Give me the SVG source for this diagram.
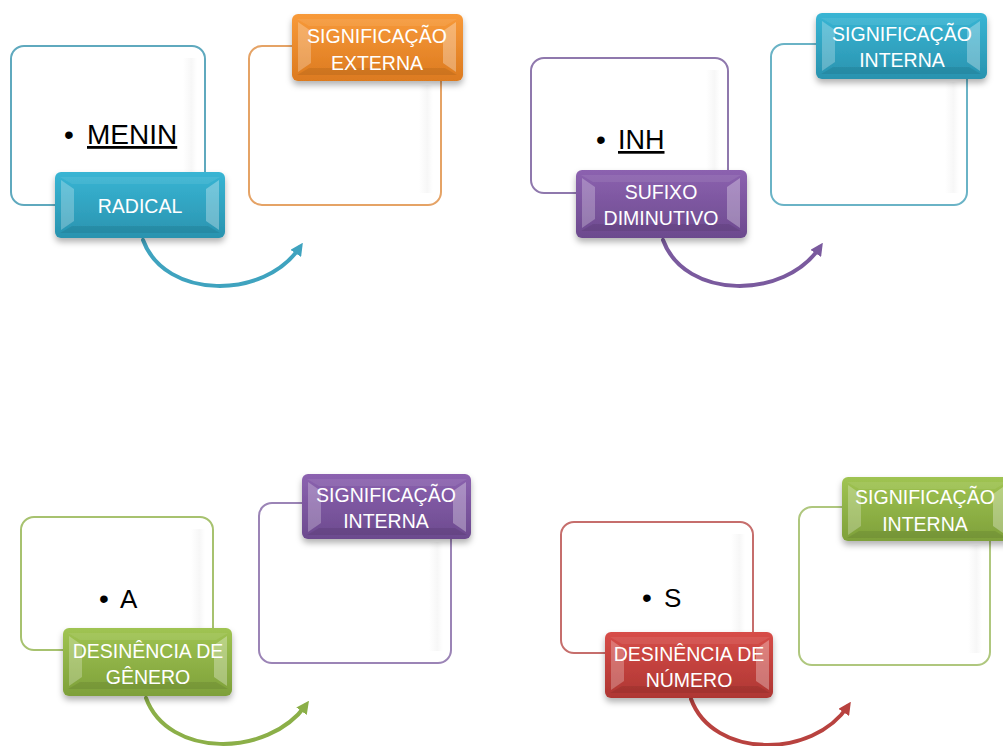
<svg xmlns="http://www.w3.org/2000/svg" xmlns:xlink="http://www.w3.org/1999/xlink" width="1003" height="746" viewBox="0 0 1003 746">
<style>
.box{fill:#ffffff;stroke-width:2}
.tabtxt{font-family:"Liberation Sans",Arial,sans-serif;font-size:19.5px;fill:#ffffff;text-anchor:middle}
.big{font-family:"Liberation Sans",Arial,sans-serif;fill:#000000}
.bul{font-family:"Liberation Sans",Arial,sans-serif;fill:#000000;text-anchor:middle;font-size:28px}
.conn{fill:none;stroke-width:4;stroke-linecap:round}
</style>
<defs>
<linearGradient id="gTeal" x1="0" y1="0" x2="0" y2="1"><stop offset="0" stop-color="#38B5D4"/><stop offset="1" stop-color="#2A93AF"/></linearGradient>
<linearGradient id="gOrange" x1="0" y1="0" x2="0" y2="1"><stop offset="0" stop-color="#F89A3A"/><stop offset="1" stop-color="#DC7A1F"/></linearGradient>
<linearGradient id="gPurple" x1="0" y1="0" x2="0" y2="1"><stop offset="0" stop-color="#8C62B0"/><stop offset="1" stop-color="#6C4A8E"/></linearGradient>
<linearGradient id="gGreen" x1="0" y1="0" x2="0" y2="1"><stop offset="0" stop-color="#A0C452"/><stop offset="1" stop-color="#7EA03A"/></linearGradient>
<linearGradient id="gRed" x1="0" y1="0" x2="0" y2="1"><stop offset="0" stop-color="#D74D48"/><stop offset="1" stop-color="#AE3633"/></linearGradient>
<linearGradient id="sheen" x1="0" y1="0" x2="1" y2="0"><stop offset="0" stop-color="#e8e8e8" stop-opacity="0"/><stop offset="0.6" stop-color="#e8e8e8" stop-opacity="0.35"/><stop offset="1" stop-color="#e8e8e8" stop-opacity="0"/></linearGradient>
<filter id="sh" x="-10%" y="-10%" width="125%" height="140%"><feDropShadow dx="0" dy="4" stdDeviation="3" flood-color="#000" flood-opacity="0.3"/></filter>
<g id="bevel">
<polygon points="5,5 165,5 153,12 17,12" fill="#ffffff" fill-opacity="0.08"/>
<polygon points="6,8 19,17 19,49 6,58" fill="#ffffff" fill-opacity="0.25"/>
<polygon points="164,8 151,17 151,49 164,58" fill="#ffffff" fill-opacity="0.3"/>
<polygon points="5,61 165,61 153,54 17,54" fill="#000000" fill-opacity="0.08"/>
</g>
<marker id="mTeal" viewBox="0 0 10 10" refX="6" refY="5" markerWidth="3.2" markerHeight="3.2" orient="auto"><path d="M0,0 L10,5 L0,10 z" fill="#3FA3BF"/></marker>
<marker id="mPurple" viewBox="0 0 10 10" refX="6" refY="5" markerWidth="3.2" markerHeight="3.2" orient="auto"><path d="M0,0 L10,5 L0,10 z" fill="#7A5A9E"/></marker>
<marker id="mGreen" viewBox="0 0 10 10" refX="6" refY="5" markerWidth="3.2" markerHeight="3.2" orient="auto"><path d="M0,0 L10,5 L0,10 z" fill="#8BAF48"/></marker>
<marker id="mRed" viewBox="0 0 10 10" refX="6" refY="5" markerWidth="3.2" markerHeight="3.2" orient="auto"><path d="M0,0 L10,5 L0,10 z" fill="#B8423F"/></marker>
</defs>
<rect width="1003" height="746" fill="#ffffff"/>

<!-- outline boxes -->
<g id="box-q1-left"><rect class="box" x="11" y="46" width="194" height="159" rx="13" stroke="#5FA9BE"/><rect x="183" y="58" width="14" height="135" fill="url(#sheen)"/></g>
<g id="box-q1-right"><rect class="box" x="249" y="46" width="192" height="159" rx="13" stroke="#E5A366"/><rect x="419" y="85" width="14" height="108" fill="url(#sheen)"/></g>
<g id="box-q2-left"><rect class="box" x="531" y="58" width="197" height="135" rx="13" stroke="#8F78AD"/><rect x="706" y="70" width="14" height="111" fill="url(#sheen)"/></g>
<g id="box-q2-right"><rect class="box" x="771" y="44" width="196" height="161" rx="13" stroke="#6AB3C6"/><rect x="945" y="82" width="14" height="111" fill="url(#sheen)"/></g>
<g id="box-q3-left"><rect class="box" x="21" y="517" width="192" height="133" rx="13" stroke="#A7C26F"/><rect x="191" y="529" width="14" height="109" fill="url(#sheen)"/></g>
<g id="box-q3-right"><rect class="box" x="259" y="503" width="192" height="160" rx="13" stroke="#9B84B6"/><rect x="429" y="542" width="14" height="109" fill="url(#sheen)"/></g>
<g id="box-q4-left"><rect class="box" x="561" y="522" width="192" height="131" rx="13" stroke="#C66E6C"/><rect x="731" y="534" width="14" height="107" fill="url(#sheen)"/></g>
<g id="box-q4-right"><rect class="box" x="799" y="507" width="191" height="158" rx="13" stroke="#AFC77E"/><rect x="968" y="545" width="14" height="108" fill="url(#sheen)"/></g>

<!-- content texts -->
<g id="item-menin"><text class="bul" x="69" y="144">•</text><text class="big" x="87" y="144" font-size="28" text-decoration="underline">MENIN</text></g>
<g id="item-inh"><text class="bul" x="601" y="149">•</text><text class="big" x="618" y="149" font-size="27" text-decoration="underline">INH</text></g>
<g id="item-a"><text class="bul" x="104" y="608">•</text><text class="big" x="120" y="608" font-size="26">A</text></g>
<g id="item-s"><text class="bul" x="647" y="607">•</text><text class="big" x="664" y="607" font-size="26">S</text></g>

<!-- connectors -->
<g id="connectors">
<path class="conn" d="M143,240 C165,300 265,300 300,247" stroke="#3FA3BF" marker-end="url(#mTeal)"/>
<path class="conn" d="M663,240 C685,300 785,300 820,247" stroke="#7A5A9E" marker-end="url(#mPurple)"/>
<path class="conn" d="M146,698 C168,758 268,758 306,705" stroke="#8BAF48" marker-end="url(#mGreen)"/>
<path class="conn" d="M691,699 C713,759 813,759 848,706" stroke="#B8423F" marker-end="url(#mRed)"/>
</g>

<!-- tabs -->
<g id="tab-radical" transform="translate(55,172)"><rect width="170" height="66" rx="6" fill="url(#gTeal)" filter="url(#sh)"/><use xlink:href="#bevel"/><text class="tabtxt" x="85" y="41">RADICAL</text></g>
<g id="tab-sig-externa" transform="translate(292,14)"><rect width="171" height="67" rx="6" fill="url(#gOrange)" filter="url(#sh)"/><use xlink:href="#bevel"/><text class="tabtxt" x="85" y="29">SIGNIFICAÇÃO</text><text class="tabtxt" x="85" y="56">EXTERNA</text></g>
<g id="tab-sufixo" transform="translate(576,170)"><rect width="171" height="68" rx="6" fill="url(#gPurple)" filter="url(#sh)"/><use xlink:href="#bevel"/><text class="tabtxt" x="85" y="29">SUFIXO</text><text class="tabtxt" x="85" y="55">DIMINUTIVO</text></g>
<g id="tab-sig-interna-1" transform="translate(816,13)"><rect width="171" height="66" rx="6" fill="url(#gTeal)" filter="url(#sh)"/><use xlink:href="#bevel"/><text class="tabtxt" x="86" y="28">SIGNIFICAÇÃO</text><text class="tabtxt" x="86" y="54">INTERNA</text></g>
<g id="tab-genero" transform="translate(63,628)"><rect width="169" height="68" rx="6" fill="url(#gGreen)" filter="url(#sh)"/><use xlink:href="#bevel"/><text class="tabtxt" x="85" y="30">DESINÊNCIA DE</text><text class="tabtxt" x="85" y="56">GÊNERO</text></g>
<g id="tab-sig-interna-2" transform="translate(302,474)"><rect width="169" height="65" rx="6" fill="url(#gPurple)" filter="url(#sh)"/><use xlink:href="#bevel"/><text class="tabtxt" x="84" y="28">SIGNIFICAÇÃO</text><text class="tabtxt" x="84" y="54">INTERNA</text></g>
<g id="tab-numero" transform="translate(605,632)"><rect width="168" height="66" rx="6" fill="url(#gRed)" filter="url(#sh)"/><use xlink:href="#bevel"/><text class="tabtxt" x="84" y="29">DESINÊNCIA DE</text><text class="tabtxt" x="84" y="55">NÚMERO</text></g>
<g id="tab-sig-interna-3" transform="translate(842,477)"><rect width="170" height="64" rx="6" fill="url(#gGreen)" filter="url(#sh)"/><use xlink:href="#bevel"/><text class="tabtxt" x="83" y="27">SIGNIFICAÇÃO</text><text class="tabtxt" x="83" y="54">INTERNA</text></g>
</svg>
